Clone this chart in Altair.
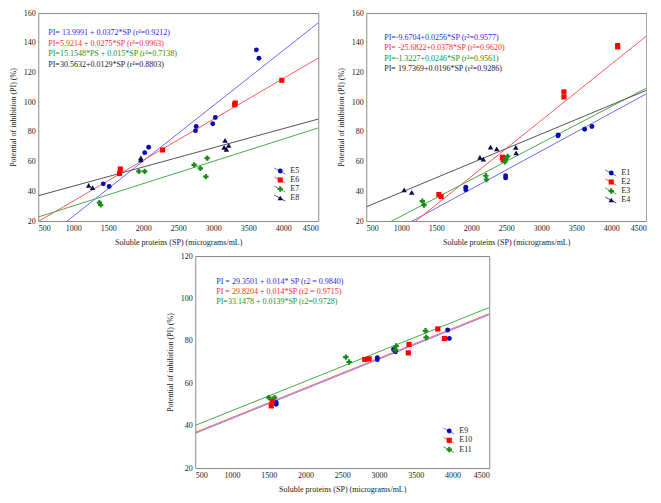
import altair as alt
import pandas as pd

FONT = "Liberation Serif"

# ---------------- data: top-left panel ----------------
tl_series = ["E5", "E6", "E7", "E8"]
E5_x = [1429, 1513, 2021, 2077, 2747, 2756, 2993, 3030, 3616, 3653]
E5_y = [45.0, 43.2, 66.0, 69.6, 80.8, 83.7, 85.5, 89.7, 135.2, 129.5]
E6_x = [1662, 1672, 2277, 3305, 3314, 3979]
E6_y = [51.9, 55.0, 67.8, 98.3, 99.4, 114.7]
E7_x = [1374, 1392, 1937, 2021, 2727, 2816, 2895, 2914]
E7_y = [32.4, 30.8, 53.4, 53.4, 57.8, 55.4, 49.9, 62.3]
E8_x = [1220, 1276, 1965, 1965, 3155, 3169, 3188, 3220]
E8_y = [43.9, 42.4, 61.1, 62.5, 69.6, 74.2, 68.2, 70.9]
tl_intercepts = [-13.9991, 5.9214, 15.1548, 30.5632]
tl_slopes = [0.0372, 0.0275, 0.015, 0.0129]
tl_eqs = [
    "PI= 13.9991 + 0.0372*SP (r²=0.9212)",
    "PI=5.9214 + 0.0275*SP (r²=0.9963)",
    "PI=15.1548*PS + 0.015*SP (r²=0.7138)",
    "PI=30.5632+0.0129*SP (r²=0.8803)",
]

# ---------------- data: top-right panel ----------------
tr_series = ["E1", "E2", "E3", "E4"]
E1_x = [1922, 1922, 2491, 2491, 3239, 3245, 3620, 3724]
E1_y = [42.8, 41.0, 50.5, 49.0, 77.4, 78.0, 81.8, 83.6]
E2_x = [1537, 1569, 2445, 2455, 3324, 3324, 4091, 4091]
E2_y = [37.8, 36.5, 62.9, 61.1, 106.9, 103.5, 138.1, 137.2]
E3_x = [1301, 1325, 2209, 2218, 2480, 2490, 2520]
E3_y = [33.4, 30.7, 50.5, 47.9, 59.8, 61.5, 63.5]
E4_x = [1042, 1150, 2124, 2172, 2275, 2364, 2636, 2641]
E4_y = [41.0, 39.2, 62.9, 61.7, 69.8, 68.6, 69.6, 65.8]
tr_intercepts = [-9.6704, -25.6822, -1.3227, 19.7369]
tr_slopes = [0.0256, 0.0378, 0.0246, 0.0196]
tr_eqs = [
    "PI=-9.6704+0.0256*SP (r²=0.9577)",
    "PI= -25.6822+0.0378*SP (r²=0.9620)",
    "PI=-1.3227+0.0246*SP (r²=0.9561)",
    "PI= 19.7369+0.0196*SP (r²=0.9286)",
]

# ---------------- data: bottom panel ----------------
b_series = ["E9", "E10", "E11"]
E9_x = [1601, 1601, 2977, 2977, 3197, 3224, 3934, 3957]
E9_y = [50.9, 50.1, 72.0, 71.1, 75.9, 74.8, 85.1, 81.1]
E10_x = [1534, 1547, 2806, 2865, 3399, 3408, 3800, 3890]
E10_y = [49.3, 51.6, 71.2, 71.5, 74.3, 78.3, 85.6, 81.1]
E11_x = [1502, 1579, 2549, 2594, 3224, 3233, 3633, 3642]
E11_y = [53.2, 53.2, 72.3, 70.0, 75.7, 77.5, 84.7, 81.6]
b_intercepts = [29.3501, 29.8204, 33.1478]
b_slopes = [0.014, 0.014, 0.0139]
b_eqs = [
    "PI = 29.3501 + 0.014* SP (r2 = 0.9840)",
    "PI = 29.8204 + 0.014*SP (r2 = 0.9715)",
    "PI=33.1478 + 0.0139*SP (r2=0.9728)",
]

x_ticks = [500, 1000, 1500, 2000, 2500, 3000, 3500, 4000, 4500]
x_title = "Soluble proteins (SP) (micrograms/mL)"
y_title = "Potential of inhibition (PI) (%)"

# styles
PT4 = ["#0a0ab4", "#ff0000", "#178a17", "#0a0a50"]
LN4 = ["#6a6aff", "#ff5a5a", "#4caa4c", "#555555"]
TX4 = ["#2a2ae6", "#ff2a2a", "#1a901a", "#222222"]
SH4 = ["circle", "square", "cross", "triangle-up"]
SZ4 = [24, 30, 18, 24]
PT3 = ["#0a0ab4", "#ff0000", "#178a17"]
LN3 = ["#7a7aff", "#ff6a6a", "#4caa4c"]
TX3 = ["#2a2ae6", "#ff2a2a", "#1a901a"]
SH3 = ["circle", "square", "cross"]
SZ3 = [24, 30, 18]
LW3 = [2.2, 1.2, 1.0]


def panel(series, xs, ys, inter, slope, eqs, ymax, yvals, w, h,
          eq_x, eq_y0, eq_dy, lg_x, lg_y0, lg_dy,
          pcol, lcol, tcol, shp, szs, lws=None):
    rows = []
    for s, xx, yy in zip(series, xs, ys):
        for a, b in zip(xx, yy):
            rows.append({"series": s, "SP": a, "PI": b})
    pts = pd.DataFrame(rows)
    lrows = []
    for s, a, b in zip(series, inter, slope):
        for xv in (500, 4500):
            lrows.append({"series": s, "a": a, "b": b, "SP": xv})
    lines = pd.DataFrame(lrows)
    eqdf = pd.DataFrame({"label": eqs, "series": series, "row": list(range(len(series)))})
    lgdf = pd.DataFrame({"label": series, "series": series, "row": list(range(len(series)))})
    n = len(series)

    xsc = alt.Scale(domain=[500, 4500], nice=False, zero=False)
    ysc = alt.Scale(domain=[20, ymax], nice=False, zero=False)
    xax = alt.Axis(values=x_ticks, title=x_title, format="d")
    X = alt.X("SP:Q", scale=xsc, axis=xax)
    dom = series

    def cscale(r):
        return alt.Scale(domain=dom, range=r)

    points = alt.Chart(pts).mark_point(filled=True, opacity=1).encode(
        x=X,
        y=alt.Y("PI:Q", scale=ysc, axis=alt.Axis(values=yvals, title=y_title)),
        color=alt.Color("series:N", scale=cscale(pcol), legend=None),
        shape=alt.Shape("series:N", scale=cscale(shp), legend=None),
        size=alt.Size("series:N", scale=cscale(szs), legend=None),
    )
    lenc = dict(
        x=alt.X("SP:Q", scale=xsc, axis=xax),
        y=alt.Y("PI:Q", scale=ysc, axis=None),
        color=alt.Color("series:N", scale=cscale(lcol), legend=None),
        detail="series:N",
    )
    if lws is not None:
        lenc["strokeWidth"] = alt.StrokeWidth("series:N", scale=cscale(lws), legend=None)
    line = alt.Chart(lines).transform_calculate(
        PI="datum.a + datum.b * datum.SP"
    ).mark_line(clip=True, strokeWidth=1).encode(**lenc)

    eqsc = alt.Scale(domain=[0, n - 1], range=[eq_y0, eq_y0 + eq_dy * (n - 1)])
    eqt = alt.Chart(eqdf).mark_text(
        align="left", baseline="middle", font=FONT, fontSize=8
    ).encode(
        x=alt.value(eq_x),
        y=alt.Y("row:Q", scale=eqsc, axis=None),
        text="label:N",
        color=alt.Color("series:N", scale=cscale(tcol), legend=None),
    )
    lgsc = alt.Scale(domain=[0, n - 1], range=[lg_y0, lg_y0 + lg_dy * (n - 1)])
    LY = alt.Y("row:Q", scale=lgsc, axis=None)
    lg_rule = alt.Chart(lgdf).mark_rule(strokeWidth=1, yOffset=-3, y2Offset=3).encode(
        x=alt.value(lg_x - 6), x2=alt.value(lg_x + 5),
        y=LY, y2=alt.Y2("row:Q"),
        color=alt.Color("series:N", scale=cscale(lcol), legend=None),
    )
    lg_pt = alt.Chart(lgdf).mark_point(filled=True, opacity=1).encode(
        x=alt.value(lg_x), y=LY,
        color=alt.Color("series:N", scale=cscale(pcol), legend=None),
        shape=alt.Shape("series:N", scale=cscale(shp), legend=None),
        size=alt.Size("series:N", scale=cscale(szs), legend=None),
    )
    lg_tx = alt.Chart(lgdf).mark_text(
        align="left", baseline="middle", font=FONT, fontSize=8, color="#222"
    ).encode(x=alt.value(lg_x + 10), y=LY, text="label:N")

    return alt.layer(line, points, eqt, lg_rule, lg_pt, lg_tx).resolve_scale(
        y="independent", color="independent", shape="independent",
        size="independent", strokeWidth="independent"
    ).properties(width=w, height=h)


TW, TH = 280, 208
tl = panel(tl_series, [E5_x, E6_x, E7_x, E8_x], [E5_y, E6_y, E7_y, E8_y],
           tl_intercepts, tl_slopes, tl_eqs, 160, list(range(20, 161, 20)), TW, TH,
           10, 20, 10.5, 242, 158, 9, PT4, LN4, TX4, SH4, SZ4)
tr = panel(tr_series, [E1_x, E2_x, E3_x, E4_x], [E1_y, E2_y, E3_y, E4_y],
           tr_intercepts, tr_slopes, tr_eqs, 160, list(range(20, 161, 20)), TW, TH,
           18, 24.5, 10.5, 245, 160, 9, PT4, LN4, TX4, SH4, SZ4)
bt = panel(b_series, [E9_x, E10_x, E11_x], [E9_y, E10_y, E11_y],
           b_intercepts, b_slopes, b_eqs, 120, list(range(20, 121, 20)), 294, 212,
           21, 25.5, 10.2, 254, 175, 9.3, PT3, LN3, TX3, SH3, SZ3, LW3)

top = alt.hconcat(tl, tr, spacing=17)
chart = alt.vconcat(top, bt, spacing=4, center=True).properties(
    padding=0
).configure_axis(
    labelFont=FONT, labelFontSize=8, labelColor="#222",
    titleFont=FONT, titleFontSize=8, titleFontWeight="normal", titleColor="#222",
    grid=False, domain=False, ticks=False, labelPadding=3, titlePadding=6,
).configure_view(stroke="#8a8a8a", strokeWidth=1)

chart.save("out.html", embed_options={"renderer": "svg", "actions": False})
